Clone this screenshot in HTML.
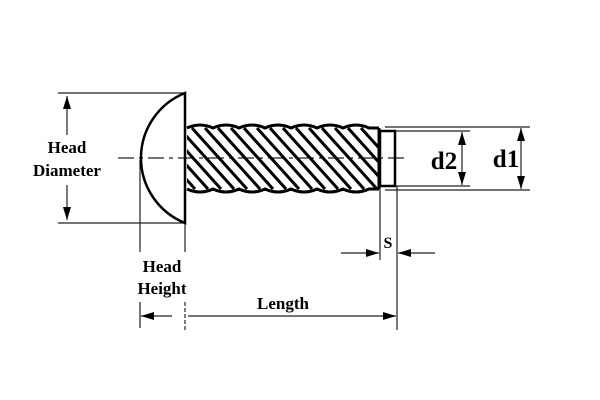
<!DOCTYPE html>
<html><head><style>body{margin:0;background:#fff}svg{display:block}</style></head><body>
<svg width="600" height="400" viewBox="0 0 600 400" xmlns="http://www.w3.org/2000/svg" font-family="Liberation Serif, serif" font-weight="bold">
<defs>
<marker id="a" viewBox="0 0 10 10" refX="10" refY="5" markerWidth="13" markerHeight="8" preserveAspectRatio="none" orient="auto-start-reverse" markerUnits="userSpaceOnUse"><path d="M0,0L10,5L0,10z" fill="#000"/></marker>
<clipPath id="c"><rect x="187" y="127" width="192" height="63"/></clipPath>
</defs>
<g stroke="#222" stroke-width="1.2" fill="none">
<line x1="58" y1="93" x2="185" y2="93"/><line x1="58" y1="223" x2="185" y2="223"/>
<line x1="67" y1="96" x2="67" y2="135" marker-start="url(#a)"/><line x1="67" y1="185" x2="67" y2="220" marker-end="url(#a)"/>
<line x1="118" y1="158" x2="405" y2="158" stroke-dasharray="16,5,4,5"/>
<line x1="140" y1="160" x2="140" y2="252"/><line x1="140" y1="302" x2="140" y2="328"/>
<line x1="185" y1="223" x2="185" y2="252"/><line x1="185" y1="302" x2="185" y2="330" stroke-dasharray="4,2"/>
<line x1="380" y1="186" x2="380" y2="260"/><line x1="397" y1="186" x2="397" y2="330"/>
<line x1="141" y1="316" x2="172" y2="316" marker-start="url(#a)"/>
<line x1="188" y1="316" x2="396" y2="316" marker-end="url(#a)"/>
<line x1="341" y1="253" x2="379" y2="253" marker-end="url(#a)"/>
<line x1="435" y1="253" x2="398" y2="253" marker-end="url(#a)"/>
<line x1="385" y1="127" x2="530" y2="127"/><line x1="385" y1="190" x2="530" y2="190"/>
<line x1="395" y1="131" x2="470" y2="131"/><line x1="395" y1="186" x2="470" y2="186"/>
<line x1="521" y1="128" x2="521" y2="189" marker-start="url(#a)" marker-end="url(#a)"/>
<line x1="462" y1="132" x2="462" y2="185" marker-start="url(#a)" marker-end="url(#a)"/>
</g>
<g stroke="#000" stroke-width="3" fill="none">
<path d="M185,93 A70,70 0 0 0 185,223 Z" stroke-width="2.5"/>
<path d="M187,128 q13,-6 26,0 q13,-6 26,0 q13,-6 26,0 q13,-6 26,0 q13,-6 26,0 q13,-6 26,0 q13,-6 26,0 L379,128"/>
<path d="M187,189 q13,6 26,0 q13,6 26,0 q13,6 26,0 q13,6 26,0 q13,6 26,0 q13,6 26,0 q13,6 26,0 L379,189"/>
<line x1="379" y1="128" x2="379" y2="189"/>
<g clip-path="url(#c)" stroke-width="3">
<line x1="140" y1="128" x2="195" y2="189"/><line x1="153" y1="128" x2="208" y2="189"/>
<line x1="166" y1="128" x2="221" y2="189"/><line x1="179" y1="128" x2="234" y2="189"/>
<line x1="192" y1="128" x2="247" y2="189"/><line x1="205" y1="128" x2="260" y2="189"/>
<line x1="218" y1="128" x2="273" y2="189"/><line x1="231" y1="128" x2="286" y2="189"/>
<line x1="244" y1="128" x2="299" y2="189"/><line x1="257" y1="128" x2="312" y2="189"/>
<line x1="270" y1="128" x2="325" y2="189"/><line x1="283" y1="128" x2="338" y2="189"/>
<line x1="296" y1="128" x2="351" y2="189"/><line x1="309" y1="128" x2="364" y2="189"/>
<line x1="322" y1="128" x2="377" y2="189"/><line x1="335" y1="128" x2="390" y2="189"/>
<line x1="348" y1="128" x2="403" y2="189"/><line x1="361" y1="128" x2="416" y2="189"/>
</g>
<rect x="380" y="131" width="15" height="55" stroke-width="2.5"/>
</g>
<g fill="#000" text-anchor="middle">
<text x="67" y="153" font-size="17">Head</text>
<text x="67" y="176" font-size="17">Diameter</text>
<text x="162" y="272" font-size="17">Head</text>
<text x="162" y="294" font-size="17">Height</text>
<text x="283" y="309" font-size="17">Length</text>
<text x="388" y="248" font-size="16">S</text>
<text x="444" y="169" font-size="25">d2</text>
<text x="506" y="167" font-size="25">d1</text>
</g>
</svg>
</body></html>
